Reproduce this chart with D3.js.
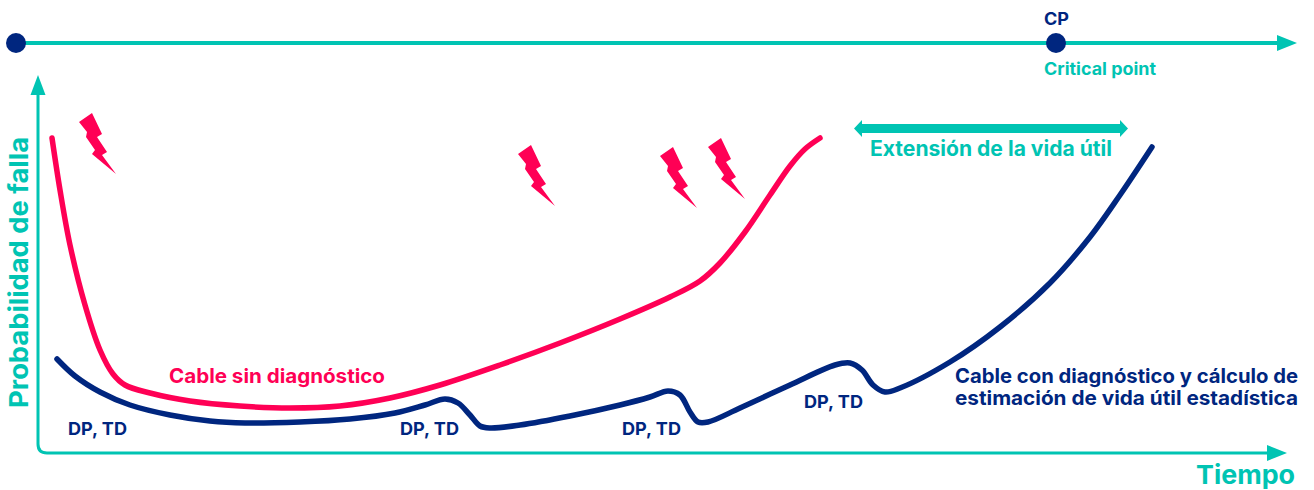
<!DOCTYPE html>
<html>
<head>
<meta charset="utf-8">
<style>
  html, body { margin: 0; padding: 0; background: #fff; }
  svg { display: block; }
  text { font-family: Inter, "Open Sans", sans-serif; font-weight: 700; }
</style>
<script src="https://cdn.jsdelivr.net/npm/d3@7"></script>
</head>
<body>
<svg id="chart" width="1314" height="490"></svg>
<script>
const teal = '#00c4b3', navy = '#00267f', red = '#ff0055';

// values: time, failure probability
const sinTime = [14, 22, 32, 47, 62, 75, 87, 112, 152, 202, 252, 302, 352, 402, 462, 522, 582, 632, 662, 682, 707, 732, 752, 767, 782];
const sinProb = [315, 263, 208, 148, 103, 79, 68, 60, 52, 47, 45, 47, 55, 68, 88, 110, 134, 156, 172, 190, 221, 258, 287, 304, 315];

const conTime = [19, 37, 62, 92, 132, 172, 207, 262, 312, 357, 387, 407, 420, 432, 442, 452, 482, 532, 582, 612, 630, 642, 652, 660, 670, 702, 752, 797, 812, 824, 835, 847, 862, 912, 962, 1012, 1052, 1082, 1114];
const conProb = [94, 77, 61, 48, 38, 32, 30, 31, 34, 40, 48, 54, 50, 38, 27, 25, 28, 37, 48, 56, 62, 58, 41, 31, 31, 45, 68, 88, 90, 83, 68, 61, 65, 91, 126, 170, 216, 258, 306];

// failures on the uncontrolled cable: where each bolt starts
const boltTime = [41, 480, 622, 670];
const boltProb = [340, 308, 306, 315];

// DP, TD measurements
const diagTime = [30, 362, 584, 766];
const diagProb = [18, 18, 18, 45];

const x = d3.scaleLinear().domain([0, 1232]).range([38, 1270]);
const y = d3.scaleLinear().domain([0, 378]).range([453, 75]);

const svg = d3.select('#chart');

function arrowHead(tip, base, half, axis) {
  const pts = axis === 'x'
    ? [[tip[0], tip[1]], [base, tip[1] - half], [base, tip[1] + half]]
    : [[tip[0], tip[1]], [tip[0] - half, base], [tip[0] + half, base]];
  svg.append('polygon').attr('points', pts.join(' ')).attr('fill', teal);
}

function label(text, px, py, size, color, len) {
  const t = svg.append('text')
    .attr('x', px).attr('y', py)
    .attr('font-size', size)
    .attr('fill', color)
    .text(text);
  if (len) t.attr('textLength', len).attr('lengthAdjust', 'spacingAndGlyphs');
  return t;
}

// timeline
svg.append('line').attr('x1', 16).attr('x2', 1280).attr('y1', 43).attr('y2', 43)
  .attr('stroke', teal).attr('stroke-width', 4);
arrowHead([1297, 43], 1277, 8, 'x');
svg.append('circle').attr('cx', 16).attr('cy', 43).attr('r', 10).attr('fill', navy);
svg.append('circle').attr('cx', 1056).attr('cy', 43).attr('r', 10).attr('fill', navy);
label('CP', 1044, 25, 17, navy, 25);
label('Critical point', 1044, 75, 17, teal, 112);

// axes
const corner = 9;
svg.append('path')
  .attr('d', `M${x(0)},${y(360)} V${y(corner)} Q${x(0)},${y(0)} ${x(corner)},${y(0)} H${x(1232)}`)
  .attr('fill', 'none').attr('stroke', teal).attr('stroke-width', 3);
arrowHead([38, 75], 95, 7.5, 'y');
arrowHead([1287, 453], 1267, 8, 'x');

label('Tiempo', 1196, 484, 26, teal, 99);
label('Probabilidad de falla', 0, 0, 26, teal, 271)
  .attr('transform', 'translate(28,408) rotate(-90)');

// curves
const line = d3.line().x(d => x(d[0])).y(d => y(d[1])).curve(d3.curveCatmullRom.alpha(0.5));

svg.append('path').attr('d', line(d3.zip(sinTime, sinProb)))
  .attr('fill', 'none').attr('stroke', red).attr('stroke-width', 5.5).attr('stroke-linecap', 'round');
svg.append('path').attr('d', line(d3.zip(conTime, conProb)))
  .attr('fill', 'none').attr('stroke', navy).attr('stroke-width', 5.5).attr('stroke-linecap', 'round');

// lightning bolts
const boltShape = [[0, 9], [13, 0], [23, 21], [18, 24], [28, 39], [23, 42], [37, 61], [13, 41], [16, 37], [7, 24], [8, 19]];
boltTime.forEach((t, i) => {
  svg.append('polygon')
    .attr('points', boltShape.join(' '))
    .attr('transform', `translate(${x(t)},${y(boltProb[i])})`)
    .attr('fill', red);
});

// extension arrow
svg.append('polygon')
  .attr('points', [[854, 128.5], [862, 120], [862, 124], [1120, 124], [1120, 120], [1128, 128.5], [1120, 137], [1120, 133], [862, 133], [862, 137]].join(' '))
  .attr('fill', teal);
label('Extensión de la vida útil', 870, 156, 21, teal, 242);

// labels
label('Cable sin diagnóstico', 169, 383, 20, red, 216);
label('Cable con diagnóstico y cálculo de', 955, 383, 20, navy, 343);
label('estimación de vida útil estadística', 955, 405, 20, navy, 343);

diagTime.forEach((t, i) => {
  label('DP, TD', x(t), y(diagProb[i]), 18, navy, 59);
});
</script>
</body>
</html>
